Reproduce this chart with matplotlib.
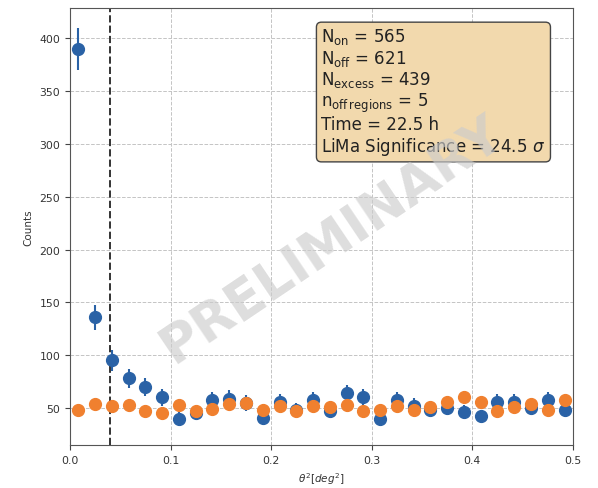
import numpy as np
import matplotlib
matplotlib.use("Agg")
import matplotlib.pyplot as plt

# theta^2 binning: 30 bins of width 1/60 deg^2 from 0 to 0.5
bin_edges = np.linspace(0.0, 0.5, 31)
bin_centers = 0.5 * (bin_edges[:-1] + bin_edges[1:])

# ON-region counts per bin
on_counts = [390, 136, 95, 78, 70, 60, 40, 45, 58, 59,
             55, 41, 56, 48, 58, 47, 64, 60, 40, 58,
             52, 48, 50, 46, 42, 56, 56, 50, 58, 48]

# OFF-region counts per bin (normalised to the ON exposure)
off_counts = [48, 54, 52, 53, 47, 45, 53, 47, 49, 54,
              55, 48, 52, 47, 52, 51, 53, 47, 48, 52,
              48, 51, 56, 60, 56, 47, 51, 54, 48, 58]

n_off_regions = 5
theta2_cut = 0.04

stats_lines = [
    r"$\mathrm{N_{on}}$ = 565",
    r"$\mathrm{N_{off}}$ = 621",
    r"$\mathrm{N_{excess}}$ = 439",
    r"$\mathrm{n_{off\,regions}}$ = 5",
    "Time = 22.5 h",
    r"LiMa Significance = 24.5 $\sigma$",
]

on_counts = np.array(on_counts, dtype=float)
off_counts = np.array(off_counts, dtype=float)
on_err = np.sqrt(on_counts)
off_err = np.sqrt(off_counts / n_off_regions)

fig = plt.figure(figsize=(5.98, 4.89), dpi=100)
ax = fig.add_axes([0.117, 0.088, 0.841, 0.894])

ax.errorbar(bin_centers, on_counts, yerr=on_err, fmt="o", color="#2a62a6",
            markersize=8.5, elinewidth=1.5, zorder=3)
ax.errorbar(bin_centers, off_counts, yerr=off_err, fmt="o", color="#f0802f",
            markersize=8.5, elinewidth=1.5, zorder=3)

ax.axvline(theta2_cut, color="#333333", linestyle="--", linewidth=1.4, zorder=2)

ax.set_xlim(0.0, 0.5)
ax.set_ylim(15, 429)
ax.set_xticks(np.arange(0.0, 0.51, 0.1))
ax.set_yticks(np.arange(50, 401, 50))
ax.grid(True, linestyle="--", color="#c4c4c4", linewidth=0.7)
ax.tick_params(labelsize=7.8, colors="#444444", labelcolor="#333333")
for sp in ax.spines.values():
    sp.set_color("#555555")

ax.set_xlabel(r"$\theta^2 [deg^2]$", fontsize=7.5, color="#333333")
ax.set_ylabel("Counts", fontsize=7.5, color="#333333")

ax.text(0.5, 0.958, "\n".join(stats_lines), transform=ax.transAxes,
        fontsize=12, va="top", ha="left", color="#222222", zorder=5,
        linespacing=1.1,
        bbox=dict(boxstyle="round,pad=0.3", facecolor="#f2d9ad",
                  edgecolor="#444444", linewidth=1.0))

ax.text(0.52, 0.47, "PRELIMINARY", transform=ax.transAxes, fontsize=38,
        fontweight="bold", color="#cccccc", alpha=0.65, rotation=34,
        ha="center", va="center", zorder=6)

fig.savefig("out.png", dpi=100)
